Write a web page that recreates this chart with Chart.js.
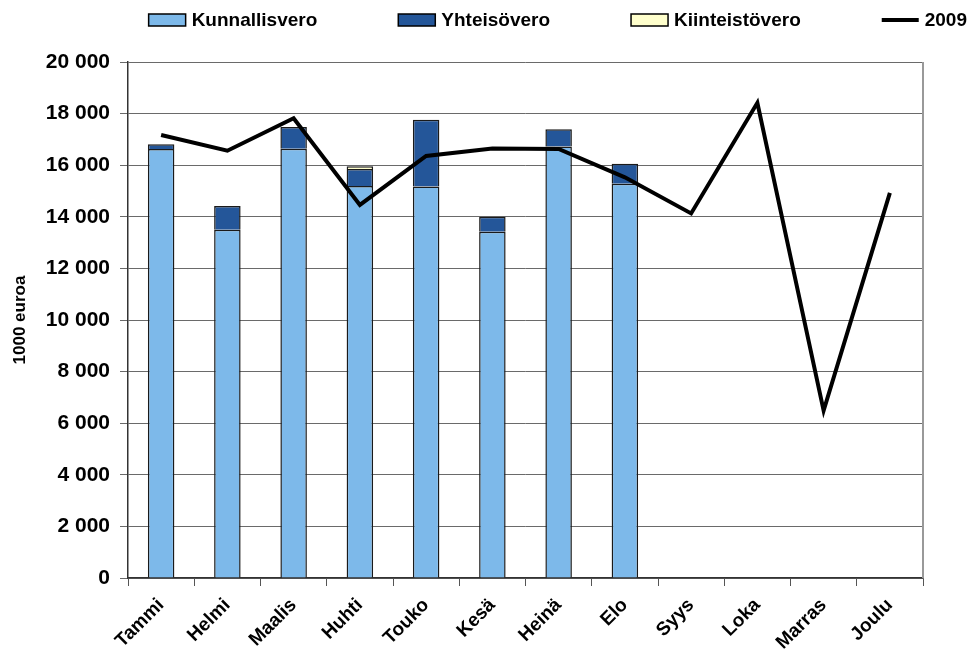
<!DOCTYPE html>
<html>
<head>
<meta charset="utf-8">
<script src="https://cdn.jsdelivr.net/npm/chart.js@4/dist/chart.umd.min.js"></script>
<style>
  html, body { margin: 0; padding: 0; background: #fff; }
  #wrap { width: 970px; height: 662px; }
</style>
</head>
<body>
<div id="wrap"><canvas id="taxChart"></canvas></div>
<script>
const months = ['Tammi', 'Helmi', 'Maalis', 'Huhti', 'Touko', 'Kesä', 'Heinä', 'Elo', 'Syys', 'Loka', 'Marras', 'Joulu'];
const kunnallisvero = [16630, 13500, 16640, 15190, 15170, 13420, 16720, 15280, null, null, null, null];
const yhteisovero = [180, 920, 840, 660, 2590, 580, 670, 780, null, null, null, null];
const kiinteistovero = [null, null, null, 110, null, null, null, null, null, null, null, null];
const line2009 = [17170, 16560, 17820, 14460, 16360, 16650, 16630, 15530, 14130, 18420, 6490, 14930];
const yTicks = [0, 2000, 4000, 6000, 8000, 10000, 12000, 14000, 16000, 18000, 20000];

const FONT = '"Liberation Sans", Arial, sans-serif';
Chart.defaults.font.family = FONT;
Chart.defaults.color = '#000';

const fmt = v => String(v).replace(/\B(?=(\d{3})+(?!\d))/g, ' ');

// legend drawn by hand so the items can be spread out like the original
const topLegend = {
    id: 'topLegend',
    afterDraw(chart) {
        const c = chart.ctx;
        const boxW = 37, boxH = 12, gap = 6, spacing = 81;
        const y = 20;
        c.save();
        c.font = 'bold 19px ' + FONT;
        c.textBaseline = 'middle';
        const items = chart.data.datasets.map(ds => ({ ds, w: boxW + gap + c.measureText(ds.label).width }));
        const total = items.reduce((s, it) => s + it.w, 0) + spacing * (items.length - 1);
        let x = 967 - total;
        items.forEach(it => {
            const ds = it.ds;
            if (ds.type === 'line') {
                c.strokeStyle = ds.borderColor;
                c.lineWidth = 4;
                c.beginPath();
                c.moveTo(x, y);
                c.lineTo(x + boxW, y);
                c.stroke();
            } else {
                c.fillStyle = ds.backgroundColor;
                c.fillRect(x, y - boxH / 2, boxW, boxH);
                c.strokeStyle = '#000';
                c.lineWidth = 1.5;
                c.strokeRect(x, y - boxH / 2, boxW, boxH);
            }
            c.fillStyle = '#000';
            c.fillText(ds.label, x + boxW + gap, y + 1);
            x += it.w + spacing;
        });
        c.restore();
    }
};

const rightBorder = {
    id: 'rightBorder',
    afterDraw(chart) {
        const a = chart.chartArea;
        const c = chart.ctx;
        c.save();
        c.strokeStyle = '#999';
        c.lineWidth = 2;
        c.beginPath();
        c.moveTo(a.right, a.top);
        c.lineTo(a.right, a.bottom);
        c.stroke();
        c.restore();
    }
};

const ctx = document.getElementById('taxChart').getContext('2d');
new Chart(ctx, {
    type: 'bar',
    data: {
        labels: months,
        datasets: [
            {
                label: 'Kunnallisvero',
                data: kunnallisvero,
                backgroundColor: '#7db9ea',
                borderColor: '#1a1a1a',
                borderWidth: 1.5,
                stack: 'vero',
                order: 1
            },
            {
                label: 'Yhteisövero',
                data: yhteisovero,
                backgroundColor: '#245699',
                borderColor: '#1a1a1a',
                borderWidth: 1.5,
                stack: 'vero',
                order: 1
            },
            {
                label: 'Kiinteistövero',
                data: kiinteistovero,
                backgroundColor: '#ffffcc',
                borderColor: '#1a1a1a',
                borderWidth: 1.5,
                stack: 'vero',
                order: 1
            },
            {
                type: 'line',
                label: '2009',
                data: line2009,
                borderColor: '#000',
                backgroundColor: '#000',
                borderWidth: 4,
                pointRadius: 0,
                tension: 0,
                stack: 'line',
                order: 0
            }
        ]
    },
    options: {
        responsive: true,
        maintainAspectRatio: false,
        animation: false,
        layout: { padding: { left: 10, right: 47, top: 62, bottom: 0 } },
        datasets: {
            bar: { barPercentage: 0.4, categoryPercentage: 1.0 }
        },
        plugins: {
            legend: { display: false },
            tooltip: { enabled: false }
        },
        scales: {
            x: {
                stacked: true,
                offset: true,
                afterFit: axis => { axis.height = 84; },
                grid: {
                    offset: true,
                    drawOnChartArea: false,
                    drawTicks: true,
                    tickLength: 8,
                    color: '#555'
                },
                border: { color: '#333', width: 1.5 },
                ticks: {
                    minRotation: 45,
                    maxRotation: 45,
                    padding: 8,
                    font: { size: 19, weight: 'bold' }
                }
            },
            y: {
                stacked: true,
                min: 0,
                max: 20000,
                afterBuildTicks: axis => { axis.ticks = yTicks.map(v => ({ value: v })); },
                afterFit: axis => { axis.width = 118; },
                grid: {
                    color: '#6a6a6a',
                    tickLength: 8
                },
                border: { color: '#333', width: 1.5 },
                title: {
                    display: true,
                    text: '1000 euroa',
                    font: { size: 17, weight: 'bold' },
                    padding: { top: 0, bottom: 0 }
                },
                ticks: {
                    padding: 10,
                    font: { size: 21, weight: 'bold' },
                    callback: v => fmt(v)
                }
            }
        }
    },
    plugins: [topLegend, rightBorder]
});
</script>
</body>
</html>
